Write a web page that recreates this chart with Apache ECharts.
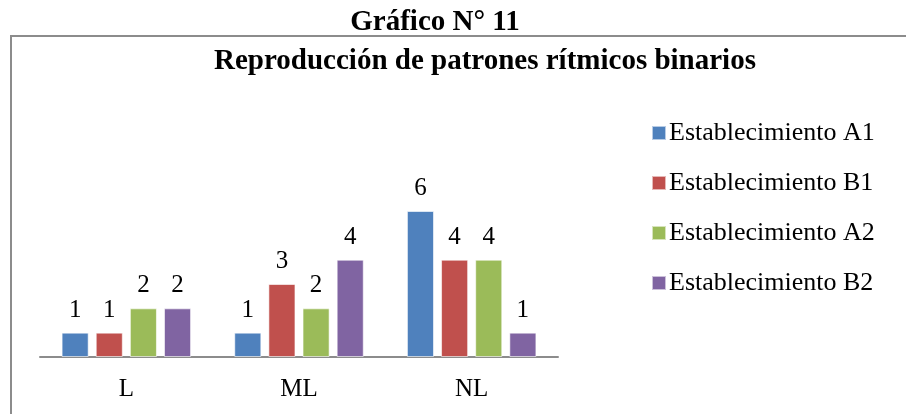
<!DOCTYPE html>
<html>
<head>
<meta charset="utf-8">
<script src="https://cdn.jsdelivr.net/npm/echarts@6/dist/echarts.min.js"></script>
<style>
  html, body { margin: 0; padding: 0; background: #fff; }
  #chart { width: 906px; height: 414px; }
</style>
</head>
<body>
<div id="chart"></div>
<script>
const categories = ['L', 'ML', 'NL']
const seriesNames = ['Establecimiento A1', 'Establecimiento B1', 'Establecimiento A2', 'Establecimiento B2']
const valuesA1 = [1, 1, 6]
const valuesB1 = [1, 3, 4]
const valuesA2 = [2, 2, 4]
const valuesB2 = [2, 4, 1]
const colors = ['#4F81BD', '#C0504D', '#9BBB59', '#8064A2']

const font = 'Liberation Serif, Times New Roman, serif'
const allValues = [valuesA1, valuesB1, valuesA2, valuesB2]

const myChart = echarts.init(document.getElementById('chart'))

let option = {
    animation: false,
    color: colors,
    title: [
        {
            text: 'Gráfico N° 11',
            left: 430, top: 3, textAlign: 'center',
            textStyle: {fontFamily: font, fontSize: 29, fontWeight: 'bold', color: '#000'}
        },
        {
            text: 'Reproducción de patrones rítmicos binarios',
            left: 480, top: 42, textAlign: 'center',
            textStyle: {fontFamily: font, fontSize: 29, fontWeight: 'bold', color: '#000'}
        }
    ],
    graphic: [{
        type: 'rect',
        shape: {x: 11, y: 36, width: 1000, height: 500},
        style: {fill: 'none', stroke: '#8c8c8c', lineWidth: 2},
        silent: true
    }],
    legend: {
        orient: 'vertical',
        left: 646, top: 115,
        icon: 'rect',
        itemWidth: 14, itemHeight: 14,
        itemGap: 24,
        textStyle: {fontFamily: font, fontSize: 26, color: '#000', padding: [0, 0, 0, -2]},
        data: seriesNames
    },
    grid: {left: 40, right: 348, top: 211, bottom: 57},
    xAxis: {
        type: 'category',
        data: categories,
        axisLine: {lineStyle: {color: '#8c8c8c', width: 2}},
        axisTick: {show: false},
        axisLabel: {fontFamily: font, fontSize: 25, color: '#000', margin: 20}
    },
    yAxis: {
        type: 'value', min: 0, max: 6,
        show: false,
        splitLine: {show: false}
    },
    series: seriesNames.map((name, i) => ({
        name: name,
        type: 'bar',
        data: allValues[i],
        barGap: '26%',
        barCategoryGap: '25%',
        itemStyle: {borderColor: 'rgba(255,255,255,0.6)', borderWidth: 1},
        label: {
            show: true, position: 'top', distance: 10,
            fontFamily: font, fontSize: 25, color: '#000'
        }
    }))
}
myChart.setOption(option)
</script>
</body>
</html>
